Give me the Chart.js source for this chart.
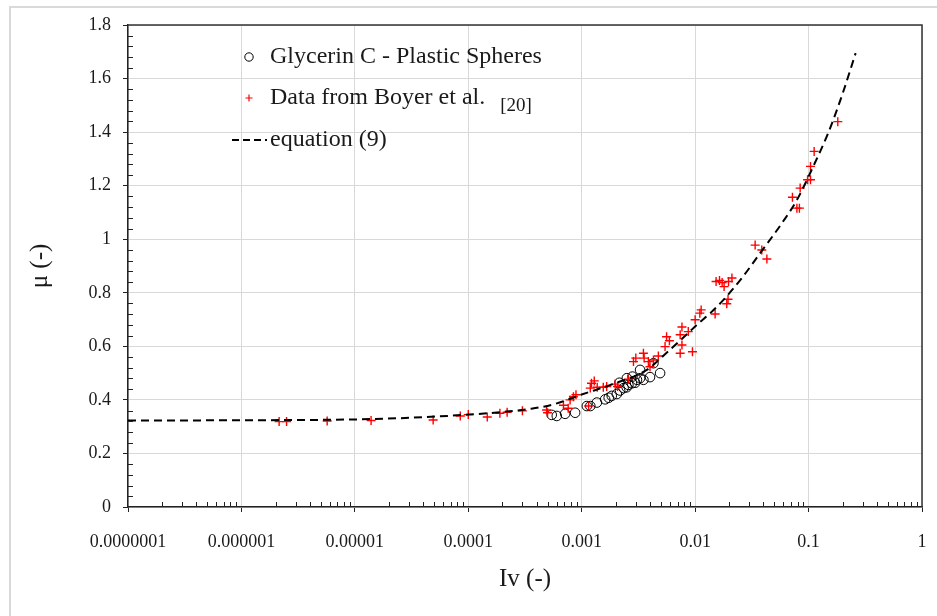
<!DOCTYPE html>
<html>
<head>
<meta charset="utf-8">
<script src="https://cdn.jsdelivr.net/npm/chart.js@4"></script>
<style>
  html, body { margin: 0; padding: 0; background: #fff; }
  #wrap { width: 937px; height: 616px; }
</style>
</head>
<body>
<div id="wrap"><canvas id="mainChart" width="937" height="616"></canvas></div>
<script>
    // Glycerin C - plastic spheres (open circles)
    const glycerinIv = [5.44e-4, 6.03e-4, 7.14e-4, 8.75e-4, 1.11e-3, 1.19e-3, 1.36e-3, 1.61e-3, 1.73e-3, 1.84e-3,
      2.04e-3, 2.15e-3, 2.18e-3, 2.34e-3, 2.49e-3, 2.5e-3, 2.58e-3, 2.77e-3, 2.8e-3, 2.96e-3,
      3.07e-3, 3.27e-3, 3.27e-3, 3.5e-3, 4.0e-3, 4.29e-3, 4.91e-3];
    const glycerinMu = [0.344, 0.340, 0.348, 0.352, 0.377, 0.377, 0.390, 0.402, 0.408, 0.415,
      0.422, 0.464, 0.435, 0.444, 0.447, 0.481, 0.456, 0.462, 0.487, 0.464,
      0.475, 0.481, 0.512, 0.475, 0.485, 0.537, 0.500];

    // Boyer et al. [20] (red crosses)
    const boyerIv = [2.15e-6, 2.5e-6, 5.7e-6, 1.39e-5, 4.9e-5, 8.5e-5, 1.0e-4, 1.47e-4, 1.9e-4, 2.2e-4,
      3.0e-4, 4.9e-4, 5.0e-4, 6.9e-4, 7.6e-4, 7.9e-4, 8.45e-4, 8.9e-4, 1.15e-3, 1.19e-3,
      1.22e-3, 1.29e-3, 1.37e-3, 1.55e-3, 1.66e-3, 1.97e-3, 2.07e-3, 2.58e-3, 2.86e-3, 3.0e-3,
      3.5e-3, 3.55e-3, 3.87e-3, 4.0e-3, 4.29e-3, 4.74e-3, 5.43e-3, 5.6e-3, 5.93e-3, 7.38e-3,
      7.65e-3, 7.38e-3, 7.65e-3, 8.7e-3, 9.47e-3, 1.0e-2, 1.1e-2, 1.13e-2, 1.5e-2, 1.53e-2,
      1.64e-2, 1.73e-2, 1.8e-2, 1.97e-2, 2.11e-2, 1.95e-2, 1.9e-2, 3.38e-2, 3.87e-2, 4.29e-2,
      7.21e-2, 7.89e-2, 8.3e-2, 8.43e-2, 9.8e-2, 0.104, 0.104, 0.112, 0.181];
    const boyerMu = [0.319, 0.319, 0.321, 0.323, 0.325, 0.34, 0.345, 0.336, 0.35, 0.354,
      0.359, 0.362, 0.352, 0.38, 0.369, 0.40, 0.412, 0.419, 0.377, 0.444,
      0.462, 0.471, 0.447, 0.447, 0.45, 0.459, 0.45, 0.477, 0.543, 0.556,
      0.574, 0.556, 0.543, 0.524, 0.549, 0.564, 0.599, 0.636, 0.621, 0.574,
      0.605, 0.643, 0.672, 0.655, 0.58, 0.699, 0.724, 0.736, 0.721, 0.842,
      0.846, 0.838, 0.823, 0.842, 0.855, 0.776, 0.759, 0.978, 0.96, 0.926,
      1.157, 1.116, 1.116, 1.191, 1.222, 1.222, 1.272, 1.328, 1.439];

    // equation (9)
    const eqIv = [1e-7, 1e-6, 1e-5, 3e-5, 1e-4, 2e-4, 3.6e-4, 5.6e-4, 1e-3, 2e-3,
      3.75e-3, 5.25e-3, 8.45e-3, 1.07e-2, 1.36e-2, 1.72e-2, 2.58e-2, 3.74e-2, 5.82e-2, 7.9e-2,
      0.11, 0.15, 0.2, 0.26];
    const eqMu = [0.323, 0.324, 0.327, 0.333, 0.345, 0.355, 0.367, 0.383, 0.42, 0.463,
      0.512, 0.565, 0.645, 0.686, 0.724, 0.767, 0.855, 0.948, 1.06, 1.147,
      1.272, 1.40, 1.545, 1.695];

    const xTickValues = [1e-7, 1e-6, 1e-5, 1e-4, 1e-3, 1e-2, 1e-1, 1];
    const xTickLabels = ['0.0000001', '0.000001', '0.00001', '0.0001', '0.001', '0.01', '0.1', '1'];
    const yTickLabels = ['0', '0.2', '0.4', '0.6', '0.8', '1', '1.2', '1.4', '1.6', '1.8'];

    const legendItems = ['Glycerin C - Plastic Spheres', 'Data from Boyer et al.', 'equation (9)'];

    const SERIF = '"Liberation Serif", "Times New Roman", serif';

    const toPoints = (xs, ys) => xs.map((x, i) => ({ x, y: ys[i] }));

    const decorations = {
      id: 'decorations',
      beforeDraw(chart) {
        const ctx = chart.ctx;
        ctx.save();
        ctx.fillStyle = '#fff';
        ctx.fillRect(0, 0, chart.width, chart.height);
        // light outer frame
        ctx.strokeStyle = '#d9d9d9';
        ctx.lineWidth = 2;
        ctx.beginPath();
        ctx.moveTo(10, chart.height);
        ctx.lineTo(10, 7);
        ctx.lineTo(chart.width, 7);
        ctx.stroke();
        ctx.restore();
      },
      afterDraw(chart) {
        const ctx = chart.ctx;
        const area = chart.chartArea;
        const xs = chart.scales.x;
        const ys = chart.scales.y;
        ctx.save();
        ctx.strokeStyle = '#222';
        ctx.lineWidth = 1;

        // minor ticks on the y axis (inside)
        ctx.beginPath();
        for (let i = 1; i < 45; i++) {
          if (i % 5 === 0) continue;
          const py = Math.round(ys.getPixelForValue(i * 0.04)) + 0.5;
          ctx.moveTo(area.left, py);
          ctx.lineTo(area.left + 5, py);
        }
        // minor ticks on the x axis (inside)
        for (let k = -7; k < 0; k++) {
          for (let m = 2; m <= 9; m++) {
            const px = Math.round(xs.getPixelForValue(m * Math.pow(10, k))) + 0.5;
            ctx.moveTo(px, area.bottom);
            ctx.lineTo(px, area.bottom - 5);
          }
        }
        ctx.stroke();

        // top and right of the plot box
        ctx.strokeStyle = '#333';
        ctx.lineWidth = 1.5;
        ctx.beginPath();
        ctx.moveTo(area.left, area.top);
        ctx.lineTo(area.right, area.top);
        ctx.lineTo(area.right, area.bottom);
        ctx.stroke();

        // legend
        const lx = 249, tx = 270;
        const rows = [57, 98, 140];
        ctx.font = '24px ' + SERIF;
        ctx.fillStyle = '#1a1a1a';
        ctx.textBaseline = 'middle';
        ctx.textAlign = 'left';

        ctx.strokeStyle = '#000';
        ctx.lineWidth = 1;
        ctx.beginPath();
        ctx.arc(lx, rows[0], 4.2, 0, Math.PI * 2);
        ctx.stroke();
        ctx.fillText(legendItems[0], tx, rows[0]);

        ctx.strokeStyle = '#ff0000';
        ctx.lineWidth = 1.2;
        ctx.beginPath();
        ctx.moveTo(lx - 3.5, rows[1]); ctx.lineTo(lx + 3.5, rows[1]);
        ctx.moveTo(lx, rows[1] - 3.5); ctx.lineTo(lx, rows[1] + 3.5);
        ctx.stroke();
        ctx.fillText(legendItems[1], tx, rows[1]);
        const w1 = ctx.measureText(legendItems[1]).width;
        ctx.font = '19px ' + SERIF;
        ctx.fillText('[20]', tx + w1 + 15, rows[1] + 8);

        ctx.font = '24px ' + SERIF;
        ctx.strokeStyle = '#000';
        ctx.lineWidth = 2;
        ctx.setLineDash([7, 4]);
        ctx.beginPath();
        ctx.moveTo(232, rows[2]);
        ctx.lineTo(267, rows[2]);
        ctx.stroke();
        ctx.setLineDash([]);
        ctx.fillText(legendItems[2], tx, rows[2]);

        ctx.restore();
      }
    };

    const ctx = document.getElementById('mainChart').getContext('2d');
    const mainChart = new Chart(ctx, {
      type: 'scatter',
      data: {
        datasets: [
          {
            label: legendItems[2],
            data: toPoints(eqIv, eqMu),
            showLine: true,
            borderColor: '#000',
            borderWidth: 2,
            borderDash: [8, 5],
            pointRadius: 0,
            cubicInterpolationMode: 'monotone',
            order: 0
          },
          {
            label: legendItems[1],
            data: toPoints(boyerIv, boyerMu),
            pointStyle: 'cross',
            pointRadius: 4.5,
            borderColor: '#ff0000',
            backgroundColor: '#ff0000',
            borderWidth: 1.4,
            order: 1
          },
          {
            label: legendItems[0],
            data: toPoints(glycerinIv, glycerinMu),
            pointStyle: 'circle',
            pointRadius: 4.8,
            borderColor: '#000',
            backgroundColor: 'rgba(0,0,0,0)',
            borderWidth: 1,
            order: 2
          }
        ]
      },
      options: {
        responsive: false,
        animation: false,
        layout: { padding: { top: 25, right: 15, left: 0, bottom: 0 } },
        plugins: {
          legend: { display: false },
          tooltip: { enabled: false }
        },
        scales: {
          x: {
            type: 'logarithmic',
            min: 1e-7,
            max: 1,
            afterBuildTicks: (scale) => {
              scale.ticks = xTickValues.map((v) => ({ value: v }));
            },
            afterFit: (scale) => {
              scale.height = 109;
              scale.paddingLeft = 0;
              scale.paddingRight = 0;
            },
            ticks: {
              autoSkip: false,
              maxRotation: 0,
              padding: 19,
              color: '#1a1a1a',
              font: { family: SERIF, size: 18 },
              callback: (value, index) => xTickLabels[index]
            },
            grid: {
              color: '#d9d9d9',
              lineWidth: 1,
              tickLength: 5,
              tickColor: '#222'
            },
            border: { color: '#222', width: 1.5 },
            title: {
              display: true,
              text: 'Iv (-)',
              color: '#1a1a1a',
              font: { family: SERIF, size: 25 },
              padding: { top: 0, bottom: 22 }
            }
          },
          y: {
            min: 0,
            max: 1.8,
            afterFit: (scale) => { scale.width = 128; },
            ticks: {
              stepSize: 0.2,
              padding: 12,
              color: '#1a1a1a',
              font: { family: SERIF, size: 18 },
              callback: (value, index) => yTickLabels[index]
            },
            grid: {
              color: '#d9d9d9',
              lineWidth: 1,
              tickLength: 5,
              tickColor: '#222'
            },
            border: { color: '#222', width: 1.5 },
            title: {
              display: true,
              text: 'μ (-)',
              color: '#1a1a1a',
              font: { family: SERIF, size: 25 },
              padding: { top: 25, bottom: 0 }
            }
          }
        }
      },
      plugins: [decorations]
    });
</script>
</body>
</html>
